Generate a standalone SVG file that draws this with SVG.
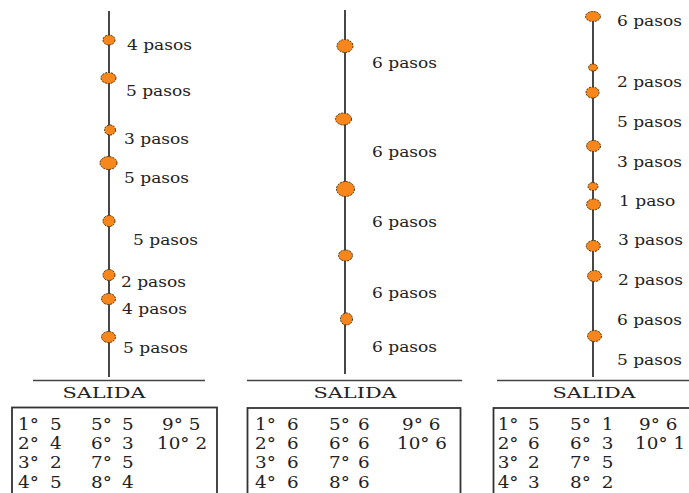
<svg xmlns="http://www.w3.org/2000/svg" width="689" height="493" viewBox="0 0 689 493">
<style>
.ln{stroke:#333;stroke-width:1.8;fill:none}
.base{stroke:#444;stroke-width:1.3;fill:none}
.box{stroke:#333;stroke-width:1.8;fill:#fff}
.dot{fill:#f7861c;stroke:#4a3000;stroke-width:1;stroke-dasharray:2 1}
.lb{font-family:'DejaVu Serif',serif;font-size:15px;fill:#222}
.sl{font-family:'DejaVu Serif',serif;font-size:14px;fill:#222}
.tb{font-family:'DejaVu Serif',serif;font-size:17px;fill:#222}
</style>
<rect width="689" height="493" fill="#fff"/>
<g id="connectors">
<line class="ln" x1="109" y1="11" x2="109" y2="377"/>
<line class="ln" x1="345" y1="10" x2="345" y2="374"/>
<line class="ln" x1="593" y1="12" x2="593" y2="377"/>
<line class="base" x1="33" y1="380.5" x2="205" y2="380.5"/>
<line class="base" x1="247" y1="380.5" x2="462" y2="380.5"/>
<line class="base" x1="497" y1="380.5" x2="689" y2="380.5"/>
</g>
<g id="col1-dots">
<ellipse class="dot" cx="109" cy="40" rx="6" ry="5"/>
<ellipse class="dot" cx="108.5" cy="78" rx="7.5" ry="5.5"/>
<ellipse class="dot" cx="110" cy="130" rx="5.5" ry="5"/>
<ellipse class="dot" cx="108.5" cy="163" rx="8.5" ry="6.5"/>
<ellipse class="dot" cx="109" cy="221" rx="6" ry="5.5"/>
<ellipse class="dot" cx="109" cy="275" rx="6" ry="5.5"/>
<ellipse class="dot" cx="108.5" cy="299" rx="7" ry="5.5"/>
<ellipse class="dot" cx="108.5" cy="337" rx="7" ry="5.5"/>
</g>
<g id="col2-dots">
<ellipse class="dot" cx="345" cy="46" rx="8" ry="6.5"/>
<ellipse class="dot" cx="343.5" cy="119" rx="8" ry="6"/>
<ellipse class="dot" cx="345.5" cy="189" rx="9" ry="7.5"/>
<ellipse class="dot" cx="345.5" cy="255.5" rx="7" ry="5.5"/>
<ellipse class="dot" cx="346.5" cy="319" rx="6" ry="6"/>
</g>
<g id="col3-dots">
<ellipse class="dot" cx="593" cy="16.5" rx="7.5" ry="5"/>
<ellipse class="dot" cx="593" cy="67.5" rx="4.5" ry="3.5"/>
<ellipse class="dot" cx="592.5" cy="92.5" rx="6.5" ry="5.5"/>
<ellipse class="dot" cx="593.5" cy="146" rx="7" ry="5.5"/>
<ellipse class="dot" cx="593" cy="186.5" rx="5" ry="4"/>
<ellipse class="dot" cx="593.5" cy="204.5" rx="7" ry="5.5"/>
<ellipse class="dot" cx="593.3" cy="246" rx="7" ry="5.5"/>
<ellipse class="dot" cx="594.5" cy="276" rx="7" ry="5.5"/>
<ellipse class="dot" cx="594.5" cy="336" rx="7" ry="5.5"/>
</g>
<g id="labels" transform="scale(1.135 1)">
<text class="lb" x="111.9" y="50">4 pasos</text>
<text class="lb" x="111" y="96">5 pasos</text>
<text class="lb" x="109.3" y="144">3 pasos</text>
<text class="lb" x="109.3" y="183">5 pasos</text>
<text class="lb" x="117.2" y="245">5 pasos</text>
<text class="lb" x="106.6" y="287">2 pasos</text>
<text class="lb" x="107.5" y="314">4 pasos</text>
<text class="lb" x="108.4" y="353">5 pasos</text>
<text class="lb" x="327.8" y="68">6 pasos</text>
<text class="lb" x="327.8" y="157">6 pasos</text>
<text class="lb" x="327.8" y="227">6 pasos</text>
<text class="lb" x="327.8" y="298">6 pasos</text>
<text class="lb" x="327.8" y="352">6 pasos</text>
<text class="lb" x="543.6" y="26">6 pasos</text>
<text class="lb" x="543.6" y="87">2 pasos</text>
<text class="lb" x="543.6" y="127">5 pasos</text>
<text class="lb" x="543.6" y="167">3 pasos</text>
<text class="lb" x="545.4" y="206">1 paso</text>
<text class="lb" x="544.5" y="245">3 pasos</text>
<text class="lb" x="544.5" y="285">2 pasos</text>
<text class="lb" x="543.6" y="325">6 pasos</text>
<text class="lb" x="543.6" y="365">5 pasos</text>
</g>
<g id="salida" transform="scale(1.49 1)">
<text class="sl" x="69.8" y="398" text-anchor="middle">SALIDA</text>
<text class="sl" x="238.3" y="398" text-anchor="middle">SALIDA</text>
<text class="sl" x="398.7" y="398" text-anchor="middle">SALIDA</text>
</g>
<g id="box1"><rect class="box" x="12" y="407.5" width="205" height="95"/></g>
<g id="box2"><rect class="box" x="247.5" y="408" width="213" height="95"/></g>
<g id="box3"><rect class="box" x="493.5" y="408" width="210" height="95"/></g>
<g id="tables" transform="scale(1.08 1)">
<text class="tb" y="430"><tspan x="16.67">1°</tspan><tspan x="46.3">5</tspan><tspan x="84.26">5°</tspan><tspan x="112.96">5</tspan><tspan x="150">9° 5</tspan></text>
<text class="tb" y="449"><tspan x="16.67">2°</tspan><tspan x="46.3">4</tspan><tspan x="84.26">6°</tspan><tspan x="112.96">3</tspan><tspan x="145.4">10° 2</tspan></text>
<text class="tb" y="468"><tspan x="16.67">3°</tspan><tspan x="46.3">2</tspan><tspan x="84.26">7°</tspan><tspan x="112.96">5</tspan></text>
<text class="tb" y="488"><tspan x="16.67">4°</tspan><tspan x="46.3">5</tspan><tspan x="84.26">8°</tspan><tspan x="112.96">4</tspan></text>
<text class="tb" y="430"><tspan x="236.1">1°</tspan><tspan x="265.7">6</tspan><tspan x="304.6">5°</tspan><tspan x="331.5">6</tspan><tspan x="372.2">9° 6</tspan></text>
<text class="tb" y="449"><tspan x="236.1">2°</tspan><tspan x="265.7">6</tspan><tspan x="304.6">6°</tspan><tspan x="331.5">6</tspan><tspan x="367.6">10° 6</tspan></text>
<text class="tb" y="468"><tspan x="236.1">3°</tspan><tspan x="265.7">6</tspan><tspan x="304.6">7°</tspan><tspan x="331.5">6</tspan></text>
<text class="tb" y="488"><tspan x="236.1">4°</tspan><tspan x="265.7">6</tspan><tspan x="304.6">8°</tspan><tspan x="331.5">6</tspan></text>
<text class="tb" y="430"><tspan x="460.8">1°</tspan><tspan x="488.9">5</tspan><tspan x="527.8">5°</tspan><tspan x="557.1">1</tspan><tspan x="591.7">9° 6</tspan></text>
<text class="tb" y="449"><tspan x="460.8">2°</tspan><tspan x="488.9">6</tspan><tspan x="527.8">6°</tspan><tspan x="557.1">3</tspan><tspan x="588">10° 1</tspan></text>
<text class="tb" y="468"><tspan x="460.8">3°</tspan><tspan x="488.9">2</tspan><tspan x="527.8">7°</tspan><tspan x="557.1">5</tspan></text>
<text class="tb" y="488"><tspan x="460.8">4°</tspan><tspan x="488.9">3</tspan><tspan x="527.8">8°</tspan><tspan x="557.1">2</tspan></text>
</g>
</svg>
